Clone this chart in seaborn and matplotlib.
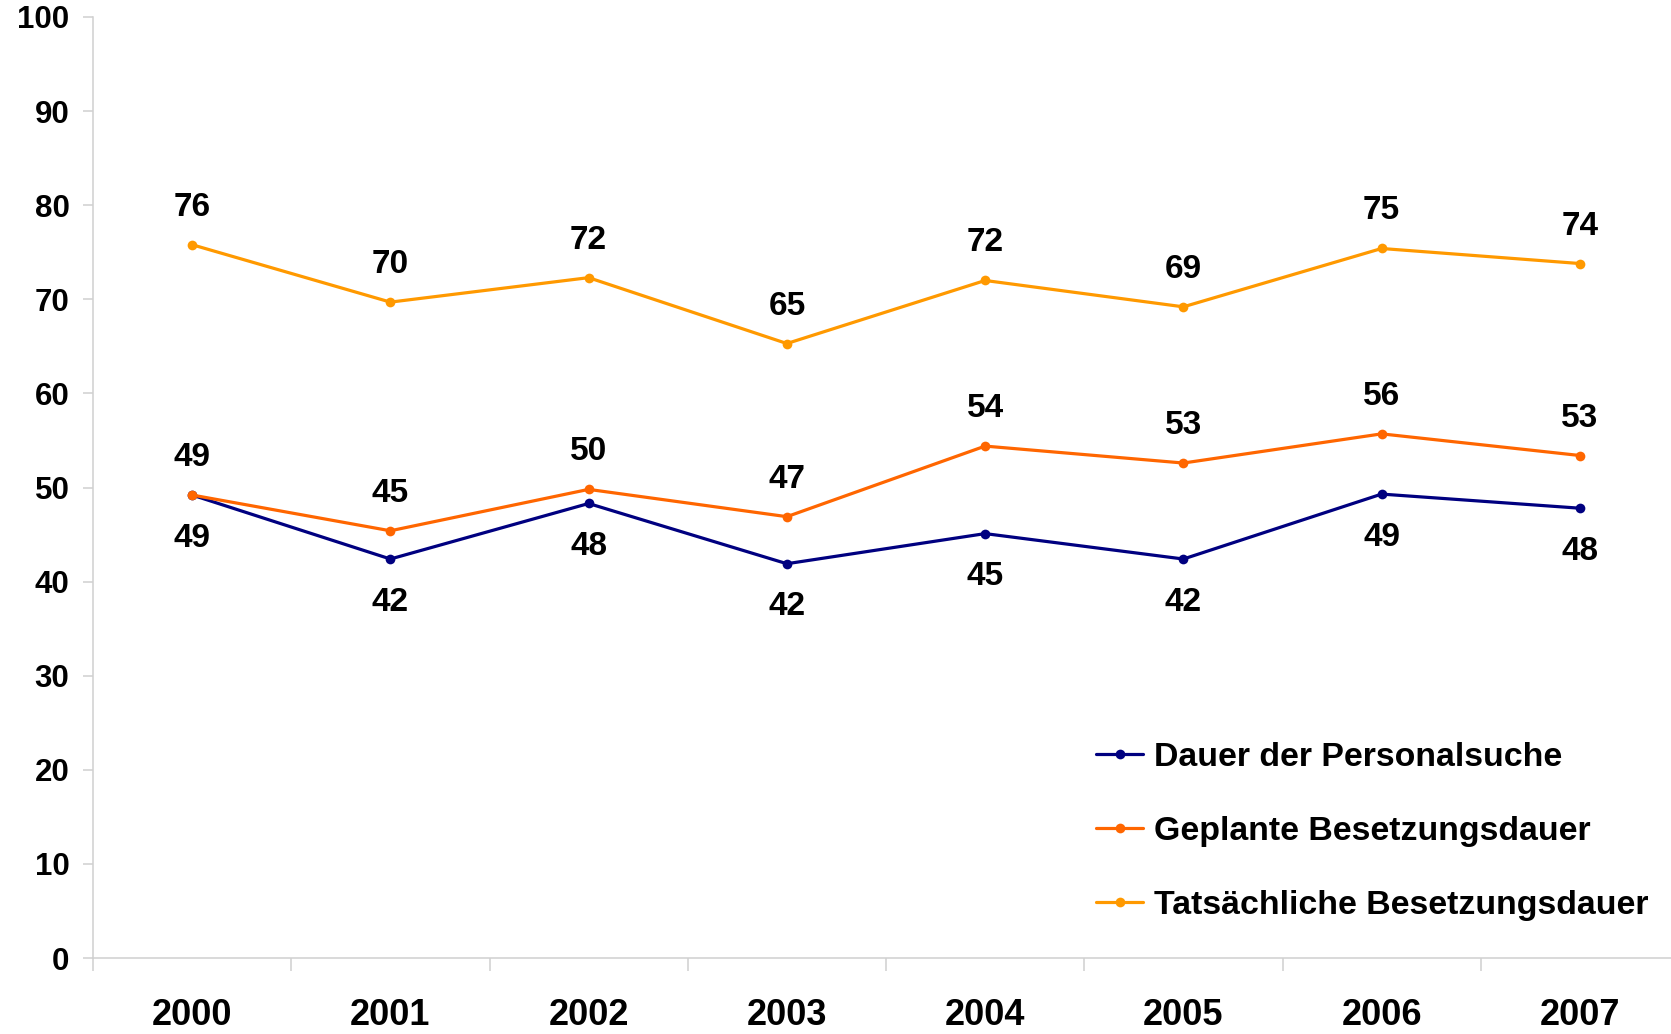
import numpy as np
import pandas as pd
import matplotlib
matplotlib.use("Agg")
import matplotlib.pyplot as plt
import seaborn as sns

years = ["2000", "2001", "2002", "2003", "2004", "2005", "2006", "2007"]
dauer_personalsuche = [49.2, 42.4, 48.3, 41.9, 45.1, 42.4, 49.3, 47.8]
geplante_dauer = [49.2, 45.4, 49.8, 46.9, 54.4, 52.6, 55.7, 53.4]
tatsaechliche_dauer = [75.8, 69.7, 72.3, 65.3, 72.0, 69.2, 75.4, 73.8]

series_names = [
    "Dauer der Personalsuche",
    "Geplante Besetzungsdauer",
    "Tatsächliche Besetzungsdauer",
]
colors = ["#000080", "#FF6600", "#FF9900"]

df = pd.DataFrame({
    "Jahr": years * 3,
    "x": list(range(len(years))) * 3,
    "Wert": dauer_personalsuche + geplante_dauer + tatsaechliche_dauer,
    "Reihe": [n for n in series_names for _ in years],
})

sns.set_style("white")
plt.rcParams["font.family"] = ["Liberation Sans", "DejaVu Sans"]
plt.rcParams["font.weight"] = "bold"
plt.rcParams["text.color"] = "black"
plt.rcParams["xtick.labelcolor"] = "black"
plt.rcParams["ytick.labelcolor"] = "black"

fig = plt.figure(figsize=(16.71, 10.34), dpi=100)
ax = fig.add_axes([93 / 1671, 76 / 1034, 1586 / 1671, 941 / 1034])

sns.lineplot(data=df, x="x", y="Wert", hue="Reihe", hue_order=series_names,
             palette=colors, marker="o", markersize=7, markeredgewidth=0,
             linewidth=2.3, ax=ax, legend=True)

# data labels: above for the two upper series, below for the blue one
for name, vals in zip(series_names, [dauer_personalsuche, geplante_dauer, tatsaechliche_dauer]):
    off = -31 if name == series_names[0] else 27
    for i, v in enumerate(vals):
        ax.annotate(f"{v:.0f}", (i, v), xytext=(0, off), textcoords="offset points",
                    ha="center", va="center", fontsize=24, fontweight="bold",
                    color="black")

ax.set_xlim(-0.5, 7.5)
ax.set_ylim(0, 100)
ax.set_yticks(np.arange(0, 101, 10))
ax.set_xticks(range(len(years)))
ax.set_xticklabels(years)
ax.set_xticks(np.arange(-0.5, 8, 1), minor=True)
ax.set_xlabel("")
ax.set_ylabel("")

gray = "#d0d0d0"
for s in ["top", "right"]:
    ax.spines[s].set_visible(False)
for s in ["left", "bottom"]:
    ax.spines[s].set_color(gray)
    ax.spines[s].set_linewidth(1.1)

ax.tick_params(axis="y", which="major", direction="out", length=7, width=1.1,
               color=gray, left=True, pad=10, labelsize=22.5)
ax.tick_params(axis="x", which="major", length=0, pad=29, labelsize=26)
ax.tick_params(axis="x", which="minor", direction="out", length=9, width=1.1,
               color=gray, bottom=True)
for lab in ax.get_xticklabels() + ax.get_yticklabels():
    lab.set_fontweight("bold")

leg = ax.legend(loc="upper left", bbox_to_anchor=(1096 / 1671, 1 - 742 / 1034),
                bbox_transform=fig.transFigure, frameon=False,
                handlelength=1.39, handletextpad=0.32, labelspacing=1.27,
                borderpad=0, borderaxespad=0, prop={"weight": "bold", "size": 24.4})

fig.savefig("out.png", dpi=100)
